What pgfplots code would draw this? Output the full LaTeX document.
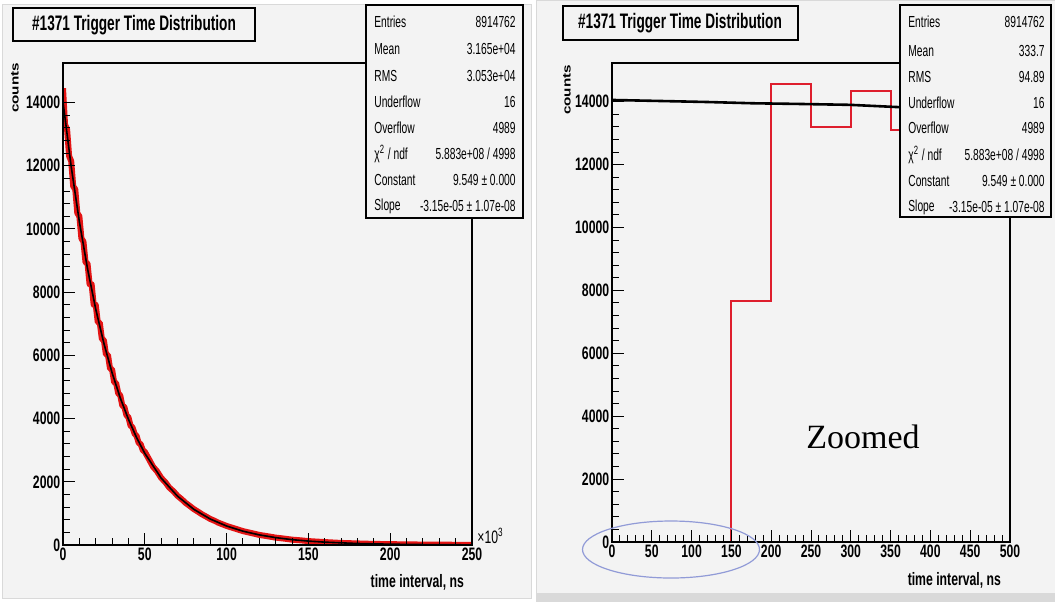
\documentclass[border=0pt]{standalone}
\usepackage{fontspec}
\setmainfont{Liberation Sans}
\newfontfamily\rootfont[FakeStretch=0.68]{Liberation Sans}
\newfontfamily\titlefont[FakeStretch=0.65]{Liberation Sans}
\newfontfamily\statfont[FakeStretch=0.64]{Liberation Sans}
\newfontfamily\seriffont{Liberation Serif}
\usepackage{graphicx}
\usepackage{pgfplots}
\pgfplotsset{compat=1.18}
\definecolor{panelbg}{HTML}{F3F3F3}
\definecolor{histred}{RGB}{228,20,20}
\definecolor{zoomred}{RGB}{222,30,45}
\definecolor{ellcol}{RGB}{145,155,215}
\newcommand{\tickf}{\rootfont\bfseries\fontsize{9}{10}\selectfont}
\newcommand{\statf}{\statfont\fontsize{8}{9}\selectfont}
\newcommand{\titlef}{\titlefont\bfseries\fontsize{10.5}{12}\selectfont}

\pgfplotstableread{
x y
0 14450
1.25 13300
2.5 13150
3.75 12300
5 12150
6.25 11350
7.5 11250
8.75 10500
10 10400
11.25 9700
12.5 9600
13.75 8950
15 8900
16.25 8250
17.5 8250
18.75 7600
20 7600
21.25 7050
22.5 7030
23.75 6520
25 6480
26.25 6030
27.5 6010
28.75 5580
30 5560
31.25 5150
32.5 5120
33.75 4800
35 4730
36.25 4410
37.5 4370
38.75 4110
40 4040
41.25 3780
42.5 3720
43.75 3520
45 3450
46.25 3230
47.5 3190
48.75 3000
50 2950
52.5 2720
55 2480
57.5 2330
60 2125
62.5 1990
65 1815
67.5 1700
70 1555
72.5 1450
75 1330
77.5 1235
80 1135
82.5 1055
85 970
87.5 900
90 825
92.5 770
95 705
97.5 655
100 603
105 522
110 440
115 380
120 320
125 278
130 234
135 204
140 170
145 149
150 124
160 93
170 66
180 50
190 35
200 28
210 19
220 15
230 10
240 8
250 6
}\histleft

\pgfplotstableread{
x y
0 14018
5 11976
10 10230
15 8739
20 7466
25 6378
30 5449
35 4655
40 3977
45 3397
50 2902
60 2118
70 1546
80 1128
90 823
100 601
110 438
120 320
130 234
140 170
150 124
160 91
180 48
200 26
225 12
250 5
}\fitleft

\pgfplotstableread{
x y
0 0
150 0
150 7650
200 7650
200 14550
250 14550
250 13200
300 13200
300 14350
350 14350
350 13100
400 13100
400 13700
450 13700
450 13400
500 13400
}\histright

\pgfplotsset{
  rootaxis/.style={
    scale only axis,
    anchor=south west,
    ymin=0,
    axis background/.style={fill=panelbg},
    tick align=inside,
    xtick pos=bottom, ytick pos=left,
    minor x tick num=4, minor y tick num=4,
    major tick length=6pt, minor tick length=3.5pt,
    major tick style={draw=black, line width=0.5pt},
    minor tick style={draw=black, line width=0.5pt},
    ticklabel style={font=\tickf, text=black},
    yticklabel style={inner sep=1.2pt},
    xticklabel style={inner sep=1.5pt},
    /pgf/number format/assume math mode=true,
    /pgf/number format/set thousands separator={},
    scaled ticks=false,
    axis line style={draw=black, line width=0.6pt},
    ytick={0,2000,...,14000},
    axis on top,
  },
}

\begin{document}
\begin{tikzpicture}[x=0.5pt,y=-0.5pt]
\path[use as bounding box] (0,0) rectangle (1055,602);
\fill[white] (0,0) rectangle (1055,602);
\filldraw[fill=panelbg, draw=gray!30] (2,4) rectangle (531,598);
\filldraw[fill=panelbg, draw=gray!30] (536,0) rectangle (1055,593);
\fill[gray!30] (536,593) rectangle (1055,602);

% ---------- left panel ----------
\begin{axis}[rootaxis,
  at={(31.5pt,-272.5pt)}, width=204.5pt, height=241pt,
  xmin=0, xmax=250, ymax=15250,
  xtick={0,50,...,250}]
  \addplot[color=histred, line width=3pt, line join=round, mark=none] table {\histleft};
  \addplot[color=red!55, line width=0.5pt, mark=none] coordinates {(0,0) (0,14450)};
  \addplot[color=black, line width=0.8pt, mark=none] table {\fitleft};
\end{axis}

% ---------- right panel ----------
\begin{axis}[rootaxis,
  at={(306pt,-271pt)}, width=199pt, height=239.5pt,
  xmin=0, xmax=500, ymax=15230,
  xtick={0,50,...,500}]
  \addplot[color=zoomred, line width=1pt, mark=none] table {\histright};
  \addplot[color=black, line width=1.3pt, mark=none]
    coordinates {(0,14055) (56,14025) (120,13990) (177,13950) (231,13930) (299,13900) (358,13830) (500,13760)};
\end{axis}

% axis texts
\node[font=\tickf, anchor=east] at (471,582) {time interval, ns};
\node[font=\tickf, anchor=east] at (1008,580) {time interval, ns};
\node[rotate=90, font=\bfseries\fontsize{7.6}{9}\selectfont] at (15,88) {\scalebox{1}[0.75]{counts}};
\node[rotate=90, font=\bfseries\fontsize{7.6}{9}\selectfont] at (567,90) {\scalebox{1}[0.75]{counts}};
\node[font=\rootfont\fontsize{9}{10}\selectfont, anchor=west, inner sep=0pt] at (477,536) {×10\textsuperscript{3}};

% titles
\filldraw[fill=panelbg, draw=black, line width=0.6pt] (13,8) rectangle (255,41);
\node[font=\titlef] at (134,25) {\#1371 Trigger Time Distribution};
\filldraw[fill=panelbg, draw=black, line width=0.6pt] (563,6) rectangle (798,40);
\node[font=\titlef] at (680,23) {\#1371 Trigger Time Distribution};

% stats boxes
\filldraw[fill=panelbg, draw=black, line width=0.6pt] (366,5) rectangle (523,218);
\foreach \lab/\val/\yy in {Entries/8914762/22, Mean/3.165e+04/49, RMS/3.053e+04/76, Underflow/16/102, Overflow/4989/128, {χ\textsuperscript{2} / ndf}/{5.883e+08 / 4998}/154, Constant/{9.549 ± 0.000}/180, Slope/{-3.15e-05 ± 1.07e-08}/206}{
  \node[font=\statf, anchor=west, inner sep=0pt] at (374,\yy) {\lab};
  \node[font=\statf, anchor=east, inner sep=0pt] at (516,\yy) {\val};
}
\filldraw[fill=panelbg, draw=black, line width=0.6pt] (900,5) rectangle (1051,217);
\foreach \lab/\val/\yy in {Entries/8914762/22, Mean/333.7/51, RMS/94.89/77, Underflow/16/103, Overflow/4989/128, {χ\textsuperscript{2} / ndf}/{5.883e+08 / 4998}/155, Constant/{9.549 ± 0.000}/181, Slope/{-3.15e-05 ± 1.07e-08}/207}{
  \node[font=\statf, anchor=west, inner sep=0pt] at (908,\yy) {\lab};
  \node[font=\statf, anchor=east, inner sep=0pt] at (1045,\yy) {\val};
}

% annotation
\node[font=\seriffont\fontsize{17}{20}\selectfont] at (863,437) {Zoomed};
\draw[ellcol, line width=0.6pt] (671,549.5) ellipse [x radius=88.5, y radius=28.5];
\end{tikzpicture}
\end{document}
